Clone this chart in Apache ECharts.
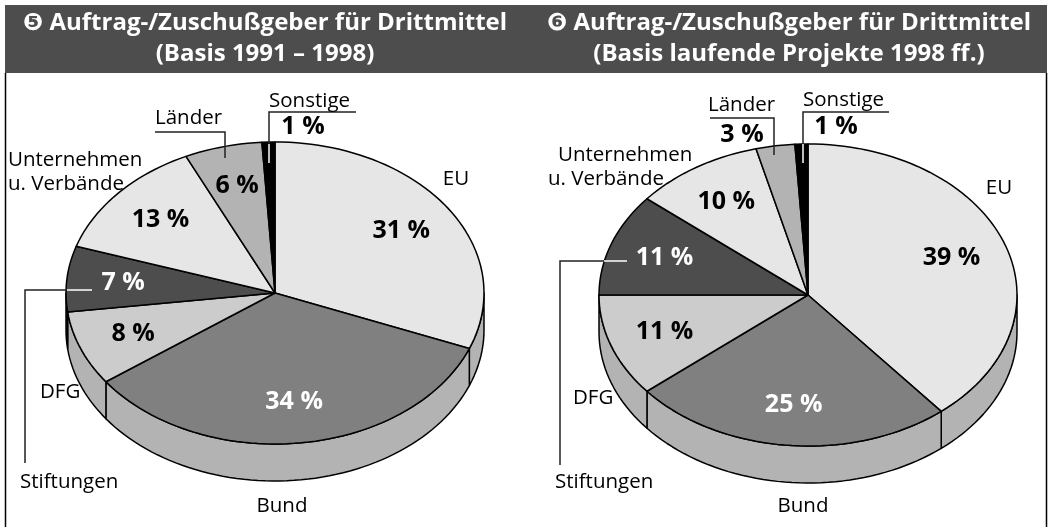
<!DOCTYPE html>
<html>
<head>
<meta charset="utf-8">
<script src="https://cdn.jsdelivr.net/npm/echarts@6/dist/echarts.min.js"></script>
<style>
  html, body { margin: 0; padding: 0; background: #fff; }
  #box { width: 1049px; height: 527px; }
</style>
</head>
<body>
<div id="box"></div>
<script>
// data
var categories = ['EU', 'Bund', 'DFG', 'Stiftungen', 'Unternehmen\nu. Verbände', 'Länder', 'Sonstige'];
var values1991 = [31, 34, 8, 7, 13, 6, 1];
var values1998 = [39, 25, 11, 11, 10, 3, 1];
var titles = [
  '\u277A Auftrag-/Zuschußgeber für Drittmittel\n(Basis 1991 – 1998)',
  '\u277B Auftrag-/Zuschußgeber für Drittmittel\n(Basis laufende Projekte 1998 ff.)'
];

// styles
var sliceColors = ['#e6e6e6', '#808080', '#cccccc', '#4d4d4d', '#e6e6e6', '#b3b3b3', '#000000'];
var sideColors = ['#b3b3b3', '#b3b3b3', '#b3b3b3', '#333333', '#b3b3b3', '#b3b3b3', '#000000'];
var textColors = ['#000', '#fff', '#000', '#fff', '#000', '#000', '#000'];
var DEPTH = 0.245;      // pie thickness in y-axis units
var FONT = '"Open Sans", "DejaVu Sans", sans-serif';

// where the category names sit: [x, y, align] (second line of a 2-line name: x2)
var nameLayout = [
  [[456, 179, 'center'], [282, 506, 'center'], [40, 392, 'left'], [20, 482, 'left'],
   [8, 160, 'left', 8], [155, 118, 'left'], [269, 101, 'left']],
  [[999, 188, 'center'], [803, 506, 'center'], [573, 398, 'left'], [555, 482, 'left'],
   [558, 155, 'left', 548], [708, 105, 'left'], [803, 100, 'left']]
];
// percent labels that stand outside the pie: [chart, index, x, y]
var outsideLabels = [[0, 6, 303, 127], [1, 6, 836, 127], [1, 5, 742, 135]];
// leader lines: black part, white part (inside dark slices)
var leaders = [
  [[[356, 112], [269, 112], [269, 144]], [[269, 144], [269, 163]]],
  [[[155, 132], [225, 132], [225, 158]], null],
  [[[25, 463], [25, 290], [67, 290]], [[67, 290], [92, 290]]],
  [[[889, 112], [803, 112], [803, 144]], [[803, 144], [803, 163]]],
  [[[710, 118], [774, 118], [774, 155]], null],
  [[[560, 465], [560, 261], [604, 261]], [[604, 261], [627, 261]]]
];

function sliceData(values) {
  var total = values.reduce(function (a, b) { return a + b; }, 0);
  var acc = 0, out = [];
  values.forEach(function (v) {
    out.push([acc / total, (acc + v) / total, v]);
    acc += v;
  });
  return out;
}

function renderSlice(params, api) {
  var i = params.dataIndex;
  var a0 = api.value(0) * 360, a1 = api.value(1) * 360, v = api.value(2);
  function pt(deg, r, drop) {
    var t = deg * Math.PI / 180;
    return api.coord([r * Math.sin(t), r * Math.cos(t) - (drop || 0)]);
  }
  var children = [];
  // front side wall
  var s = Math.max(a0, 90), e = Math.min(a1, 270);
  if (e > s) {
    var top = [], bot = [], n = Math.ceil((e - s) / 2);
    for (var k = 0; k <= n; k++) {
      var d = s + (e - s) * k / n;
      top.push(pt(d, 1));
      bot.unshift(pt(d, 1, DEPTH));
    }
    children.push({
      type: 'polygon', shape: { points: top.concat(bot) },
      style: { fill: sideColors[i], stroke: '#000', lineWidth: 1.5, lineJoin: 'round' }
    });
  }
  // top face
  var pts = [api.coord([0, 0])], m = Math.max(2, Math.ceil((a1 - a0) / 2));
  for (var j = 0; j <= m; j++) pts.push(pt(a0 + (a1 - a0) * j / m, 1));
  children.push({
    type: 'polygon', shape: { points: pts },
    style: { fill: sliceColors[i], stroke: '#000', lineWidth: 1.5, lineJoin: 'round' }
  });
  if (v >= 5) {
    var c = pt((a0 + a1) / 2, 0.73);
    children.push({
      type: 'text', z2: 10,
      style: {
        text: v + ' %', x: c[0], y: c[1], fill: textColors[i],
        font: 'bold 25px ' + FONT, align: 'center', verticalAlign: 'middle',
        textAlign: 'center', textVerticalAlign: 'middle'
      }
    });
  }
  return { type: 'group', children: children };
}

var graphics = [
  { type: 'rect', shape: { x: 5, y: 5, width: 1042, height: 68 }, style: { fill: '#4d4d4d' } },
  { type: 'line', shape: { x1: 5.5, y1: 73, x2: 5.5, y2: 527 }, style: { stroke: '#000', lineWidth: 1.5 } },
  { type: 'line', shape: { x1: 1046.5, y1: 73, x2: 1046.5, y2: 527 }, style: { stroke: '#000', lineWidth: 1.5 } }
];
[265, 789].forEach(function (x, k) {
  graphics.push({
    type: 'text', x: x, y: 39,
    style: {
      text: titles[k], fill: '#fff', font: 'bold 24px ' + FONT, lineHeight: 31,
      align: 'center', verticalAlign: 'middle', textAlign: 'center', textVerticalAlign: 'middle'
    }
  });
});
leaders.forEach(function (l) {
  graphics.push({ type: 'polyline', z: 5, shape: { points: l[0] }, style: { stroke: '#222', lineWidth: 1.5, fill: null } });
  if (l[1]) graphics.push({ type: 'polyline', z: 5, shape: { points: l[1] }, style: { stroke: '#fff', lineWidth: 1.5, fill: null } });
});
nameLayout.forEach(function (layout) {
  layout.forEach(function (p, i) {
    var lines = categories[i].split('\n');
    lines.forEach(function (line, li) {
      graphics.push({
        type: 'text', z: 5, x: li ? p[3] : p[0], y: p[1] + li * 24,
        style: {
          text: line, fill: '#000', font: '20.5px ' + FONT,
          align: p[2], verticalAlign: 'middle', textAlign: p[2], textVerticalAlign: 'middle'
        }
      });
    });
  });
});
var allValues = [values1991, values1998];
outsideLabels.forEach(function (o) {
  graphics.push({
    type: 'text', z: 5, x: o[2], y: o[3],
    style: {
      text: allValues[o[0]][o[1]] + ' %', fill: '#000', font: 'bold 25px ' + FONT,
      align: 'center', verticalAlign: 'middle', textAlign: 'center', textVerticalAlign: 'middle'
    }
  });
});

var myChart = echarts.init(document.getElementById('box'));
var option = {
  backgroundColor: '#fff',
  animation: false,
  grid: [
    { left: 66, top: 142, width: 418, height: 302 },
    { left: 599, top: 144, width: 418, height: 302 }
  ],
  xAxis: [
    { gridIndex: 0, type: 'value', min: -1, max: 1, show: false },
    { gridIndex: 1, type: 'value', min: -1, max: 1, show: false }
  ],
  yAxis: [
    { gridIndex: 0, type: 'value', min: -1, max: 1, show: false },
    { gridIndex: 1, type: 'value', min: -1, max: 1, show: false }
  ],
  series: [
    { type: 'custom', name: 'Basis 1991 – 1998', xAxisIndex: 0, yAxisIndex: 0, clip: false,
      renderItem: renderSlice, data: sliceData(values1991) },
    { type: 'custom', name: 'Basis laufende Projekte 1998 ff.', xAxisIndex: 1, yAxisIndex: 1, clip: false,
      renderItem: renderSlice, data: sliceData(values1998) }
  ],
  graphic: graphics
};
myChart.setOption(option);
</script>
</body>
</html>
